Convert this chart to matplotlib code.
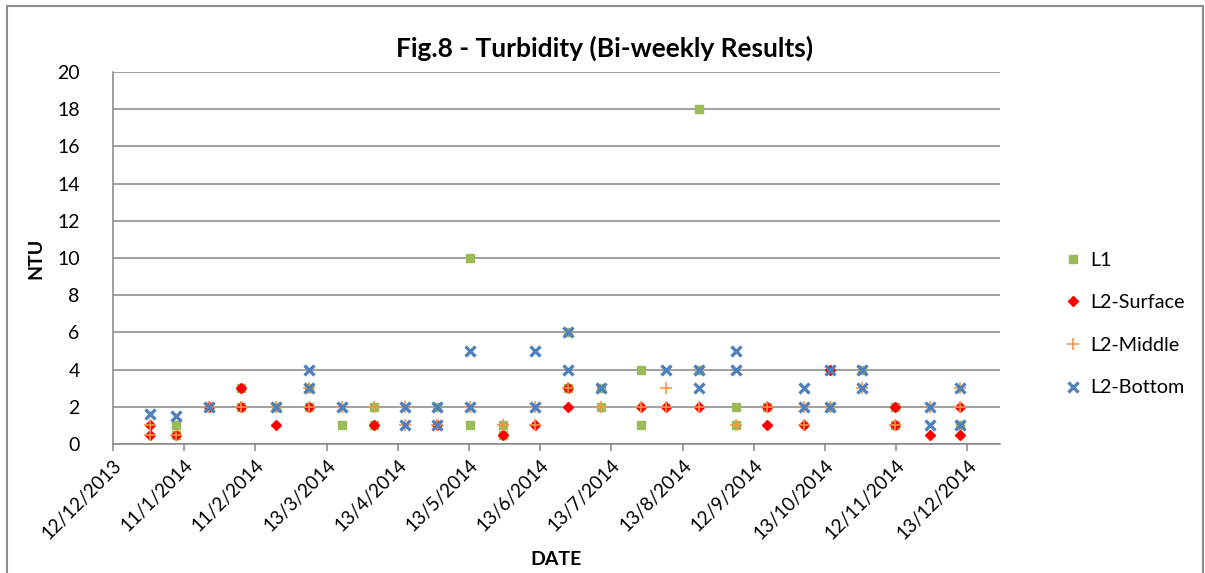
import numpy as np
import matplotlib
matplotlib.use('Agg')
import matplotlib.pyplot as plt
import matplotlib.dates as mdates
from matplotlib.patches import Rectangle
from datetime import datetime, timedelta

plt.rcParams['font.family'] = ['Lato', 'DejaVu Sans']

# datos (NTU)
l1_dates = ['2014-01-08', '2014-01-08', '2014-01-22', '2014-02-05', '2014-02-05',
            '2014-02-20', '2014-03-06', '2014-03-06', '2014-03-20', '2014-04-03',
            '2014-04-03', '2014-04-30', '2014-05-14', '2014-05-14', '2014-05-28',
            '2014-05-28', '2014-06-25', '2014-06-25', '2014-07-09', '2014-07-09',
            '2014-07-26', '2014-07-26', '2014-08-20', '2014-08-20', '2014-09-05',
            '2014-09-05', '2014-09-18', '2014-10-15', '2014-10-29', '2014-11-12',
            '2014-11-12', '2014-12-10']
l1_vals = [1, 0.5, 2, 3, 2,
           2, 3, 2, 1, 2,
           1, 2, 10, 1, 1,
           0.5, 6, 3, 3, 2,
           4, 1, 18, 4, 2,
           1, 2, 2, 4, 2,
           1, 1]

surf_dates = ['2013-12-28', '2013-12-28', '2014-01-08', '2014-01-22', '2014-02-05',
              '2014-02-05', '2014-02-20', '2014-03-06', '2014-04-03', '2014-04-30',
              '2014-05-28', '2014-06-11', '2014-06-25', '2014-06-25', '2014-07-26',
              '2014-08-06', '2014-08-20', '2014-09-18', '2014-09-18', '2014-10-04',
              '2014-10-15', '2014-11-12', '2014-11-12', '2014-11-27', '2014-12-10',
              '2014-12-10']
surf_vals = [1, 0.5, 0.5, 2, 3,
             2, 1, 2, 1, 1,
             0.5, 1, 3, 2, 2,
             2, 2, 2, 1, 1,
             4, 2, 1, 0.5, 2,
             0.5]

mid_dates = ['2013-12-28', '2013-12-28', '2014-01-08', '2014-01-22', '2014-02-05',
             '2014-02-20', '2014-03-06', '2014-03-06', '2014-03-20', '2014-04-03',
             '2014-04-16', '2014-04-16', '2014-04-30', '2014-05-14', '2014-05-28',
             '2014-06-11', '2014-06-11', '2014-06-25', '2014-07-09', '2014-07-26',
             '2014-08-06', '2014-08-06', '2014-08-20', '2014-09-05', '2014-09-18',
             '2014-10-04', '2014-10-04', '2014-10-15', '2014-10-29', '2014-11-12',
             '2014-11-27', '2014-12-10', '2014-12-10']
mid_vals = [1, 0.5, 0.5, 2, 2,
            2, 3, 2, 2, 2,
            2, 1, 1, 2, 1,
            2, 1, 3, 2, 2,
            3, 2, 2, 1, 2,
            2, 1, 2, 3, 1,
            2, 3, 2]

bot_dates = ['2013-12-28', '2014-01-08', '2014-01-22', '2014-02-20', '2014-03-06',
             '2014-03-06', '2014-03-20', '2014-04-16', '2014-04-16', '2014-04-30',
             '2014-04-30', '2014-05-14', '2014-05-14', '2014-06-11', '2014-06-11',
             '2014-06-25', '2014-06-25', '2014-07-09', '2014-08-06', '2014-08-20',
             '2014-08-20', '2014-09-05', '2014-09-05', '2014-10-04', '2014-10-04',
             '2014-10-15', '2014-10-15', '2014-10-29', '2014-10-29', '2014-11-27',
             '2014-11-27', '2014-12-10', '2014-12-10']
bot_vals = [1.6, 1.5, 2, 2, 4,
            3, 2, 2, 1, 2,
            1, 5, 2, 5, 2,
            6, 4, 3, 4, 4,
            3, 5, 4, 3, 2,
            4, 2, 4, 3, 2,
            1, 3, 1]

# eje de fechas estilo Excel: inicio 12/12/2013, paso 30.5 dias
start = datetime(2013, 12, 12)
x_end = datetime(2014, 12, 27)
tick_step = 30.5
n_ticks = 13

def fechas(lista):
    return [datetime.strptime(s, '%Y-%m-%d') for s in lista]

tick_pos = [mdates.date2num(start) + k * tick_step for k in range(n_ticks)]
tick_lab = []
for k in range(n_ticks):
    d = start + timedelta(days=int(np.floor(k * tick_step)))
    tick_lab.append('%d/%d/%d' % (d.day, d.month, d.year))

fig = plt.figure(figsize=(12.05, 5.73), dpi=100)
ax = fig.add_axes([113/1205, 1-444/573, (1000-113)/1205, (444-72)/573])

grid_c = '#868686'
ax.plot(fechas(l1_dates), l1_vals, 's', color='#9BBB59', ms=6.3, mec='#9BBB59', label='L1', zorder=3)
ax.plot(fechas(surf_dates), surf_vals, 'D', color='#FF0000', ms=4.8, mec='#FF0000', label='L2-Surface', zorder=4)
ax.plot(fechas(mid_dates), mid_vals, '+', color='#F79646', ms=8, mew=1.2, label='L2-Middle', zorder=5)
ax.plot(fechas(bot_dates), bot_vals, 'x', color='#4F81BD', ms=7.5, mew=2.4, label='L2-Bottom', zorder=6)

ax.set_xlim(mdates.date2num(start), mdates.date2num(x_end))
ax.set_ylim(0, 20)
ax.set_yticks(np.arange(0, 21, 2))
ax.yaxis.grid(True, color=grid_c, lw=1.1)
ax.set_axisbelow(True)
ax.set_xticks(tick_pos)
ax.set_xticklabels(tick_lab, rotation=45, ha='right', rotation_mode='anchor')

for s in ['top', 'right']:
    ax.spines[s].set_visible(False)
for s in ['left', 'bottom']:
    ax.spines[s].set_color(grid_c)
    ax.spines[s].set_linewidth(1.1)
ax.tick_params(axis='y', length=0, pad=24, labelsize=14)
ax.tick_params(axis='x', length=5, width=1.1, color=grid_c, direction='out', pad=4, labelsize=13.5)

ax.set_title('Fig.8 - Turbidity (Bi-weekly Results)', fontsize=19, fontweight='bold', pad=11,
             x=(605-113)/887)
ax.set_ylabel('NTU', fontsize=14, fontweight='bold', labelpad=9)
ax.set_xlabel('DATE', fontsize=14, fontweight='bold', labelpad=6)

fig.legend(loc='center left', bbox_to_anchor=(1055/1205, 1-324/573), frameon=False,
           fontsize=14.2, labelspacing=1.3, handlelength=0.8, handletextpad=0.5, borderpad=0)

# marco del grafico
fig.patches.append(Rectangle((7/1205, -0.05), (1203-7)/1205, 1-6/573+0.05, transform=fig.transFigure,
                             fill=False, edgecolor='#8C8C8C', lw=1.5))

plt.savefig('out.png', dpi=100)
